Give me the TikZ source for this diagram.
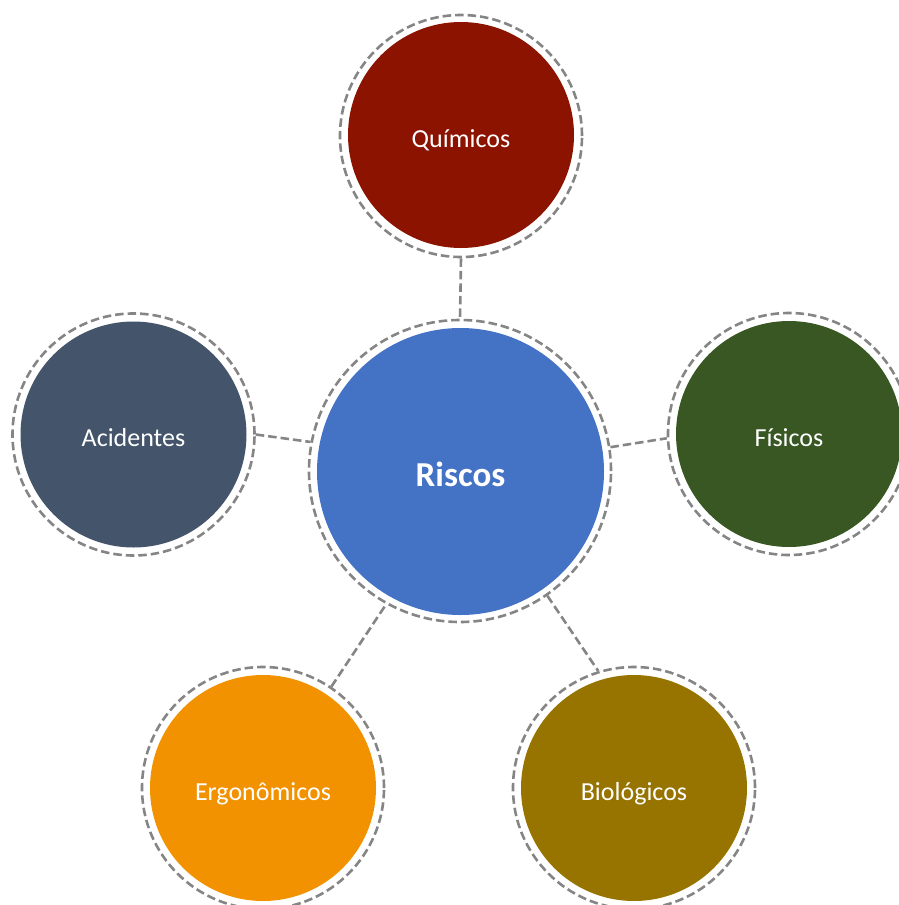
\documentclass[tikz,border=0pt]{standalone}
\usepackage{fontspec}
\setmainfont{Carlito}
\definecolor{cRis}{HTML}{4472C4}
\definecolor{cQui}{HTML}{8B1300}
\definecolor{cFis}{HTML}{385723}
\definecolor{cAci}{HTML}{44546A}
\definecolor{cErg}{HTML}{F29200}
\definecolor{cBio}{HTML}{977300}
\definecolor{cRing}{HTML}{858585}
\newcommand\mylowtext[2]{\raisebox{-#1}[0pt][0pt]{#2}}
\tikzset{
  ringstyle/.style={circle,draw=cRing,line width=2.6pt,dash pattern=on 8.5pt off 4pt,minimum size=#1,inner sep=0pt},
  bubble/.style={circle,fill=#1,draw=none,minimum size=226pt,inner sep=0pt,text=white,font=\fontsize{26}{30}\selectfont},
  linkstyle/.style={draw=cRing,line width=2.6pt,dash pattern=on 8.5pt off 4pt}
}
\begin{document}
\begin{tikzpicture}[x=1pt,y=-1pt]
\useasboundingbox (0,0) rectangle (899,905);
% rings
\node[ringstyle=302pt] (rring) at (460,471) {};
\node[ringstyle=242pt] (qring) at (461,136) {};
\node[ringstyle=242pt] (fring) at (789,434) {};
\node[ringstyle=242pt] (aring) at (133.5,434.5) {};
\node[ringstyle=242pt] (ering) at (263,788) {};
\node[ringstyle=242pt] (bring) at (634,788) {};
% fills
\node[circle,fill=cRis,minimum size=287pt,inner sep=0pt,text=white,font=\bfseries\fontsize{35}{40}\selectfont] (ris) at (460.5,471.5) {\mylowtext{14.5pt}{Riscos}};
\node[bubble=cQui] (qui) at (461,135) {\mylowtext{12pt}{Químicos}};
\node[bubble=cFis] (fis) at (789,434) {\mylowtext{12pt}{Físicos}};
\node[bubble=cAci] (aci) at (133.5,434.5) {\mylowtext{12pt}{Acidentes}};
\node[bubble=cErg] (erg) at (263,788) {\mylowtext{12pt}{Ergonômicos}};
\node[bubble=cBio] (bio) at (634,788) {\mylowtext{12pt}{Biológicos}};
% connectors
\draw[linkstyle] (qring.south) -- (rring.north);
\draw[linkstyle] (rring.9.2) -- (fring.182.8);
\draw[linkstyle] (aring.0.7) -- (rring.169.2);
\draw[linkstyle] (ering.56.4) -- (rring.241.9);
\draw[linkstyle] (rring.-55.4) -- (bring.107);
\end{tikzpicture}
\end{document}
